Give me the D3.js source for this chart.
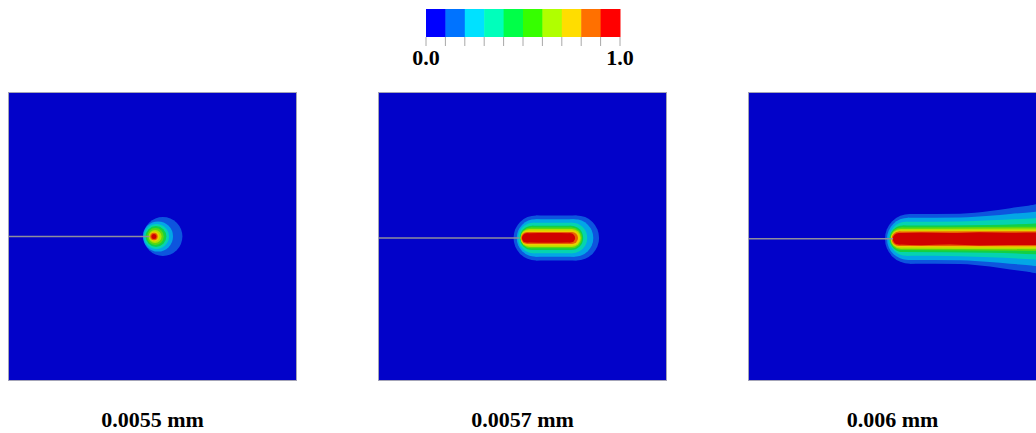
<!DOCTYPE html>
<html>
<head>
<meta charset="utf-8">
<script src="https://cdn.jsdelivr.net/npm/d3@7"></script>
<style>
  html, body { margin: 0; padding: 0; background: #fff; }
  svg { display: block; }
</style>
</head>
<body>
<svg id="chart" width="1036" height="433"></svg>
<script>
// damage legend (0..1 in 10 bands)
const legendTicks = [0, 0.1, 0.2, 0.3, 0.4, 0.5, 0.6, 0.7, 0.8, 0.9, 1.0];
const legendLabelValues = [0, 1];
const legendLabelText = ['0.0', '1.0'];
const legendColors = ['#0000ff', '#0073ff', '#00e1ff', '#00ffbb', '#00ff48',
  '#36ff00', '#b0ff00', '#ffdd00', '#ff7000', '#ff0000'];
// same levels as rendered (shaded) inside the plots
const fieldColors = ['#0202c9', '#0d55de', '#03a6e6', '#05d3b0', '#12d046',
  '#5ad810', '#b4e000', '#ecd000', '#e86000', '#d00000'];

// displacement for each snapshot
const displacements = ['0.0055 mm', '0.0057 mm', '0.006 mm'];
// initial crack (specimen units, 1 x 1)
const crackTip = [0.49, 0.49, 0.502];
const crackY = [0.5, 0.505, 0.508];

// damage bands, level 1..9 : profile of [x, half width] along the crack
const bandsEarly = [
  [[0.536, 0.0675]],
  [[0.519, 0.052]],
  [[0.514, 0.043]],
  [[0.512, 0.036]],
  [[0.510, 0.029]],
  [[0.509, 0.0225]],
  [[0.507, 0.017]],
  [[0.505, 0.013]],
  [[0.505, 0.0087]]
];
const bandsMid = [
  [[0.547, 0.078], [0.687, 0.078]],
  [[0.545, 0.065], [0.680, 0.065]],
  [[0.538, 0.053], [0.671, 0.053]],
  [[0.533, 0.042], [0.668, 0.042]],
  [[0.529, 0.036], [0.670, 0.036]],
  [[0.524, 0.031], [0.671, 0.031]],
  [[0.520, 0.026], [0.673, 0.026]],
  [[0.516, 0.021], [0.671, 0.021]],
  [[0.514, 0.016], [0.600, 0.017], [0.666, 0.016]]
];
const bandsLate = [
  [[0.560, 0.086], [0.734, 0.087], [0.837, 0.096], [0.907, 0.106], [1.01, 0.120]],
  [[0.554, 0.073], [0.734, 0.074], [0.837, 0.080], [0.907, 0.086], [1.01, 0.095]],
  [[0.547, 0.059], [0.734, 0.060], [0.837, 0.064], [1.01, 0.072]],
  [[0.536, 0.046], [0.837, 0.048], [1.01, 0.054]],
  [[0.531, 0.039], [1.01, 0.042]],
  [[0.528, 0.034], [1.01, 0.036]],
  [[0.524, 0.029], [1.01, 0.030]],
  [[0.522, 0.025], [1.01, 0.026]],
  [[0.521, 0.020], [0.60, 0.022], [0.70, 0.020], [0.80, 0.023], [0.90, 0.021], [1.01, 0.022]]
];
const panelBands = [bandsEarly, bandsMid, bandsLate];

const svg = d3.select('#chart');
const font = '"Liberation Serif", "Times New Roman", serif';

// ---- legend
const lx = d3.scaleLinear().domain([0, 1]).range([426, 620]);
const legend = svg.append('g').attr('class', 'legend');

legend.selectAll('rect')
  .data(legendColors)
  .enter()
  .append('rect')
  .attr('x', (d, i) => lx(legendTicks[i]))
  .attr('y', 9)
  .attr('width', (d, i) => lx(legendTicks[i + 1]) - lx(legendTicks[i]) + 0.5)
  .attr('height', 28)
  .attr('fill', d => d);

legend.selectAll('line')
  .data(legendTicks)
  .enter()
  .append('line')
  .attr('x1', d => lx(d))
  .attr('x2', d => lx(d))
  .attr('y1', 37)
  .attr('y2', 46)
  .attr('stroke', '#a8a8a8')
  .attr('stroke-width', 1);

legend.selectAll('text')
  .data(legendLabelValues)
  .enter()
  .append('text')
  .attr('x', d => lx(d))
  .attr('y', 65)
  .attr('text-anchor', 'middle')
  .attr('font-family', font)
  .attr('font-weight', 'bold')
  .attr('font-size', 22)
  .attr('fill', '#000')
  .text((d, i) => legendLabelText[i]);

// ---- panels
const size = 289;
const panelLeft = [8, 378, 748];
const panelTop = 92;

panelBands.forEach((bands, p) => {
  const x = d3.scaleLinear().domain([0, 1]).range([panelLeft[p], panelLeft[p] + size]);
  const y = d3.scaleLinear().domain([0, 1]).range([panelTop, panelTop + size]);
  const r = d3.scaleLinear().domain([0, 1]).range([0, size]);
  const cy = crackY[p];

  svg.append('clipPath')
    .attr('id', `clip-${p}`)
    .append('rect')
    .attr('x', x(0)).attr('y', y(0))
    .attr('width', size).attr('height', size);

  const g = svg.append('g')
    .attr('class', 'panel')
    .attr('clip-path', `url(#clip-${p})`);

  g.append('rect')
    .attr('x', x(0)).attr('y', y(0))
    .attr('width', size).attr('height', size)
    .attr('fill', fieldColors[0]);

  const area = d3.area()
    .x(d => x(d[0]))
    .y0(d => y(cy + d[1]))
    .y1(d => y(cy - d[1]))
    .curve(d3.curveMonotoneX);

  bands.forEach((profile, k) => {
    const color = fieldColors[k + 1];
    const band = g.append('g').attr('class', `level-${k + 1}`);
    const ends = profile.length > 1 ? [profile[0], profile[profile.length - 1]] : [profile[0]];
    band.selectAll('circle')
      .data(ends)
      .enter()
      .append('circle')
      .attr('cx', d => x(d[0]))
      .attr('cy', y(cy))
      .attr('r', d => r(d[1]))
      .attr('fill', color);
    if (profile.length > 1) {
      band.append('path')
        .attr('d', area(profile))
        .attr('fill', color);
    }
  });

  // initial crack
  g.append('line')
    .attr('x1', x(0))
    .attr('x2', x(crackTip[p]))
    .attr('y1', y(cy))
    .attr('y2', y(cy))
    .attr('stroke', '#8e8e9c')
    .attr('stroke-width', 1.6);

  svg.append('rect')
    .attr('x', x(0) + 0.5).attr('y', y(0) + 0.5)
    .attr('width', size - 1).attr('height', size - 1)
    .attr('fill', 'none')
    .attr('stroke', '#a4a4b8')
    .attr('stroke-width', 1);

  svg.append('text')
    .attr('x', x(0.5))
    .attr('y', 427)
    .attr('text-anchor', 'middle')
    .attr('font-family', font)
    .attr('font-weight', 'bold')
    .attr('font-size', 22)
    .attr('fill', '#000')
    .text(displacements[p]);
});
</script>
</body>
</html>
